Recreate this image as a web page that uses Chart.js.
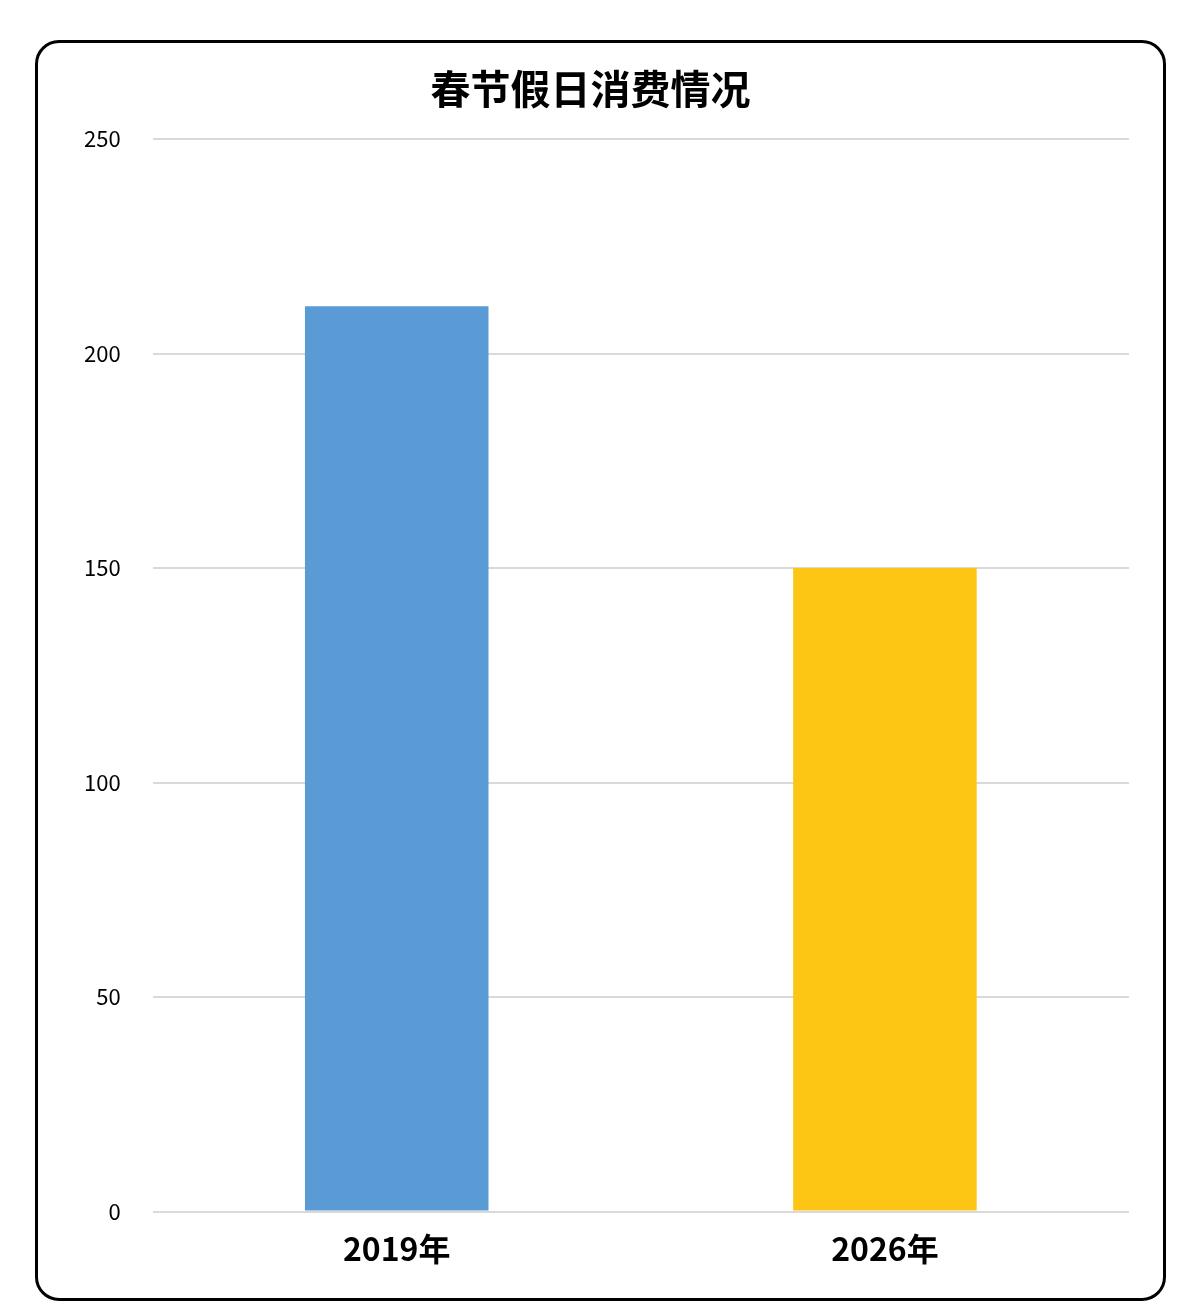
<!DOCTYPE html>
<html><head><meta charset="utf-8">
<script src="https://cdn.jsdelivr.net/npm/chart.js@4"></script>
<style>
body{margin:0;background:#fff;width:1194px;height:1308px;position:relative;overflow:hidden}
#box{position:absolute;left:35px;top:40px;width:1131px;height:1261px;border:3px solid #000;border-radius:24px;box-sizing:border-box;background:#fff}
#wrap{position:absolute;left:0;top:0;width:1125px;height:1255px}
</style></head><body>
<div id="box"><div id="wrap"><canvas id="c"></canvas></div></div>
<script>
// 数据
const categories = ['2019年', '2026年'];
const values = [211, 150];
const barColors = ['#5b9bd5', '#fdc614'];
const yTicks = [0, 50, 100, 150, 200, 250];

const fontFam = '"Noto Sans CJK SC", "Open Sans", sans-serif';
new Chart(document.getElementById('c'), {
    type: 'bar',
    data: { labels: categories, datasets: [{ data: values, backgroundColor: barColors, barPercentage: 0.376, categoryPercentage: 1 }] },
    options: {
        responsive: true, maintainAspectRatio: false, animation: false,
        layout: { padding: { left: 14, right: 34, top: 22, bottom: 20 } },
        plugins: {
            legend: { display: false },
            tooltip: { enabled: false },
            title: { display: true, text: '春节假日消费情况', color: '#000', font: { family: fontFam, size: 40, weight: 'bold' }, padding: { top: 0, bottom: 26 } }
        },
        scales: {
            x: {
                grid: { display: false }, border: { display: false },
                ticks: { color: '#000', font: { family: fontFam, size: 32, weight: 'bold' }, padding: 10 }
            },
            y: {
                min: 0, max: 250,
                afterBuildTicks: s => { s.ticks = yTicks.map(v => ({ value: v })); },
                grid: { color: '#d9d9d9', lineWidth: 2, drawTicks: false },
                border: { display: false },
                ticks: { color: '#000', font: { family: fontFam, size: 22 }, padding: 32 }
            }
        }
    }
});
</script></body></html>
